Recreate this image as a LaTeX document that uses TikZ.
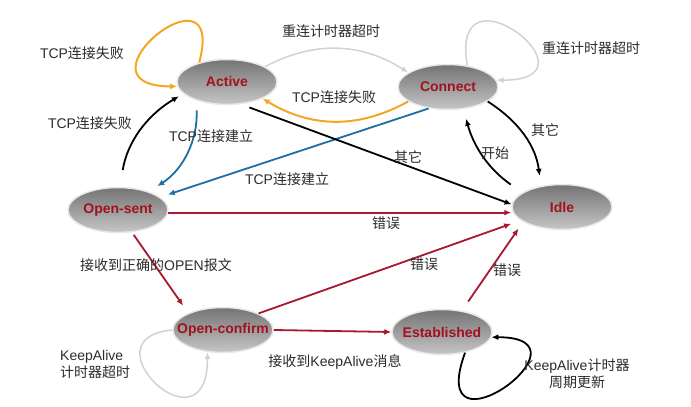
\documentclass[tikz,border=0pt]{standalone}
\usepackage{fontspec}
\setmainfont{Liberation Sans}
\newfontfamily\cjk{Noto Sans CJK SC}
\usepackage{tikz}
\usetikzlibrary{shapes.geometric,arrows.meta}
\definecolor{Wine}{HTML}{A3111F}
\definecolor{Crimson}{HTML}{A8182E}
\definecolor{Amber}{HTML}{F5A623}
\definecolor{Steel}{HTML}{1C6EA4}
\definecolor{Silver}{HTML}{D2D2D2}
\definecolor{Ink}{HTML}{2B2B2B}
\definecolor{Smoke}{HTML}{747474}
\definecolor{Ash}{HTML}{C6C6C6}

\begin{document}
\begin{tikzpicture}[x=1pt,y=1pt,
    state/.style={ellipse,draw=gray!18,line width=1.5pt,top color=Smoke,bottom color=Ash,
      minimum width=100pt,minimum height=45pt,inner sep=0pt,
      font=\bfseries\fontsize{14}{16}\selectfont,text=Wine},
    edge/.style={line width=1.8pt,-{Latex[length=7pt,width=6pt]}},
    lbl/.style={font=\fontsize{14}{17}\selectfont,text=Ink,inner sep=0pt}]
  \useasboundingbox (0,0) rectangle (691,407);
  % states
  \foreach \name/\x/\y/\label in {act/227/325/Active,con/448/320/Connect,ops/118/197/Open-sent,
      idl/562/200/Idle,opc/223/77/Open-confirm,est/442/75/Established}{
    \node[state] (\name) at (\x,\y) {\makebox[0pt]{\label}};
  }
  % transitions
  \draw[edge,Amber,line width=2pt] (act.145) to[out=75,in=180,distance=110pt] (act.185);
  \draw[edge,Silver,line width=1.5pt] (act.22) to[bend left=30] (con.160);
  \draw[edge,Amber,line width=2pt] (con.200) to[bend left=30] (act.-25);
  \draw[edge,Silver,line width=1.5pt] (con.48) to[out=100,in=0,distance=110pt] (con.8);
  \draw[edge,shorten <=17pt,shorten >=5pt] (ops.85) to[bend left=25] (act.195);
  \draw[edge,Steel,shorten <=10pt,shorten >=10pt] (act.211) to[bend left=30] (ops.31);
  \draw[edge,Steel,shorten >=8pt] (con.228) -- (ops.17);
  \draw[edge,shorten <=9pt] (act.-58) -- (idl.177);
  \draw[edge,shorten >=10pt] (con.-20) to[bend left=25] (idl.135);
  \draw[edge,shorten <=14pt,shorten >=10pt] (idl.160) to[bend left=20] (con.-55);
  \draw[edge,Crimson] (ops.-3) -- (ops.-3 -| idl.west);
  \draw[edge,Crimson,shorten <=3pt,shorten >=9pt] (ops.-58) -- (opc.154);
  \draw[edge,Crimson,shorten >=10pt] (opc.25) -- (idl.198);
  \draw[edge,Crimson,shorten <=11pt,shorten >=8pt] (est.47) -- (idl.201);
  \draw[edge,Crimson] (opc.east) -- (est.west);
  \draw[edge,Silver,line width=1.5pt] (opc.west) to[out=185,in=270,out distance=90pt,in distance=105pt] (opc.235);
  \draw[edge] (est.318) to[out=250,in=0,out distance=120pt,in distance=110pt] (est.354);
  % labels
  \foreach \name/\x/\y/\txt in {failLoop/82/354/TCP{\cjk 连接失败},retryTop/331/376/{\cjk 重连计时器超时},
      failBack/334/310/TCP{\cjk 连接失败},retryRight/591/359/{\cjk 重连计时器超时},
      failUp/90/284/TCP{\cjk 连接失败},upDown/211/271/TCP{\cjk 连接建立},
      upCross/287/228/TCP{\cjk 连接建立},otherA/408/250/{\cjk 其它},otherC/545/277/{\cjk 其它},
      startI/495/254/{\cjk 开始},errS/386/184/{\cjk 错误},errC/424/143/{\cjk 错误},errE/507/137/{\cjk 错误},
      openMsg/156/142/{\cjk 接收到正确的}OPEN{\cjk 报文},kaMsg/335/45/{\cjk 接收到}KeepAlive{\cjk 消息}}{
    \node[lbl] (\name) at (\x,\y) {\txt};
  }
  \node[lbl,anchor=west,align=left] (kaTimeout) at (60,43) {KeepAlive\\{\cjk 计时器超时}};
  \node[lbl,align=center] (kaRefresh) at (577,33) {KeepAlive{\cjk 计时器}\\{\cjk 周期更新}};
\end{tikzpicture}
\end{document}
